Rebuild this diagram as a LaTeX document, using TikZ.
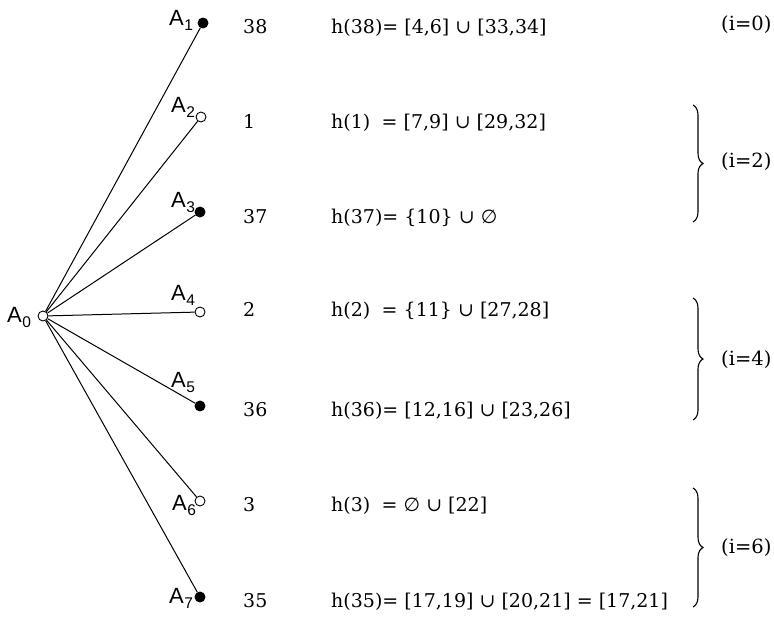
\documentclass[tikz,border=0pt]{standalone}
\usepackage{fontspec}
\usetikzlibrary{decorations.pathreplacing}
\newfontfamily\labfont{Liberation Sans}
\newfontfamily\serfont{DejaVu Serif}
\newfontfamily\symfont{DejaVu Sans}
\newcommand{\lbl}[1]{A\kern0.5pt\raisebox{-5pt}{\fontsize{15.5}{15.5}\selectfont #1}}
\newcommand{\emptyst}{{\symfont ∅}}
\begin{document}
\begin{tikzpicture}[x=1pt,y=-1pt,
  vtx/.style={circle,draw,inner sep=0pt,minimum size=10pt,line width=0.9pt},
  full/.style={vtx,fill=black},
  hollow/.style={vtx,fill=white},
  lab/.style={anchor=base west,inner sep=0pt,font=\labfont\fontsize{22}{24}\selectfont},
  num/.style={anchor=base west,inner sep=0pt,font=\serfont\fontsize{19}{24}\selectfont},
  frm/.style={anchor=base west,inner sep=0pt,font=\serfont\fontsize{19}{24}\selectfont},
  grp/.style={anchor=west,inner sep=0pt,font=\serfont\fontsize{19.5}{24}\selectfont},
  edge/.style={line width=1pt},
  brc/.style={decorate,decoration={brace,amplitude=10pt},line width=1.1pt}]
\useasboundingbox (0,0) rectangle (774,616);
% vertices
\node[hollow] (A0) at (43,316) {};
\node[full]   (A1) at (203,23) {};
\node[hollow] (A2) at (201,117) {};
\node[full]   (A3) at (200,212) {};
\node[hollow] (A4) at (200,312) {};
\node[full]   (A5) at (200,406) {};
\node[hollow] (A6) at (200,501) {};
\node[full]   (A7) at (200,597) {};
\foreach \i in {1,...,7} {\draw[edge] (A0) -- (A\i);}
% vertex labels
\node[lab] (L0) at (7,322) {\lbl{0}};
\node[lab] (L1) at (169,25) {\lbl{1}};
\node[lab] (L2) at (171,112) {\lbl{2}};
\node[lab] (L3) at (171,207) {\lbl{3}};
\node[lab] (L4) at (171,300) {\lbl{4}};
\node[lab] (L5) at (171,387) {\lbl{5}};
\node[lab] (L6) at (172,510) {\lbl{6}};
\node[lab] (L7) at (169,603) {\lbl{7}};
% numbers
\node[num] (N1) at (243,33) {38};
\node[num] (N2) at (243,128) {1};
\node[num] (N3) at (243,223) {37};
\node[num] (N4) at (243,316) {2};
\node[num] (N5) at (243,416) {36};
\node[num] (N6) at (243,511) {3};
\node[num] (N7) at (243,607) {35};
% formulas
\node[frm] (F1) at (331,33) {h(38)= [4,6] ∪ [33,34]};
\node[frm] (F2) at (331,128) {h(1)\hspace{0.6em}= [7,9] ∪ [29,32]};
\node[frm] (F3) at (331,223) {h(37)= \{10\} ∪ \emptyst};
\node[frm] (F4) at (331,316) {h(2)\hspace{0.6em}= \{11\} ∪ [27,28]};
\node[frm] (F5) at (331,416) {h(36)= [12,16] ∪ [23,26]};
\node[frm] (F6) at (331,511) {h(3)\hspace{0.6em}= \emptyst{} ∪ [22]};
\node[frm] (F7) at (331,607) {h(35)= [17,19] ∪ [20,21] = [17,21]};
% braces
\coordinate (B2a) at (693,105);
\coordinate (B2b) at (693,222);
\coordinate (B4a) at (693,298);
\coordinate (B4b) at (693,420);
\coordinate (B6a) at (693,488);
\coordinate (B6b) at (693,607);
\draw[brc] (B2a) -- (B2b);
\draw[brc] (B4a) -- (B4b);
\draw[brc] (B6a) -- (B6b);
% group labels
\node[grp] (G0) at (721,25) {(i=0)};
\node[grp] (G2) at (721,162) {(i=2)};
\node[grp] (G4) at (721,360) {(i=4)};
\node[grp] (G6) at (721,548) {(i=6)};
\end{tikzpicture}
\end{document}
